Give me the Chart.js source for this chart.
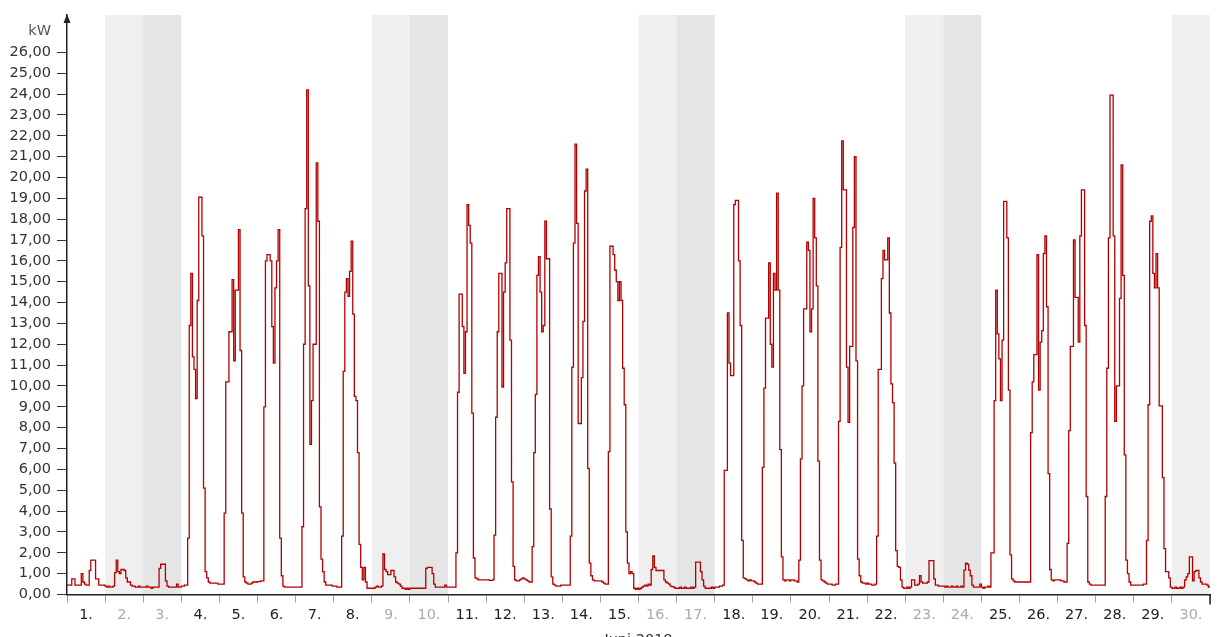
<!DOCTYPE html>
<html>
<head>
<meta charset="utf-8">
<title>Lastgang Juni 2018</title>
<script src="https://cdn.jsdelivr.net/npm/chart.js@4.4.1/dist/chart.umd.min.js"></script>
<style>
  html, body { margin: 0; padding: 0; background: #fff; overflow: hidden; }
  canvas { display: block; }
</style>
</head>
<body>
<canvas id="chart" width="1225" height="637"></canvas>
<script>
// ---- labels ----
const monthTitle = 'Juni 2018';
const unitLabel = 'kW';
const dayLabels = ['1.', '2.', '3.', '4.', '5.', '6.', '7.', '8.', '9.', '10.',
  '11.', '12.', '13.', '14.', '15.', '16.', '17.', '18.', '19.', '20.',
  '21.', '22.', '23.', '24.', '25.', '26.', '27.', '28.', '29.', '30.'];
const saturdays = [2, 9, 16, 23, 30];
const sundays = [3, 10, 17, 24];
const yTickMax = 26;

// ---- hourly load in kW, one array per day (hour 0..23) ----
const day01 = [0.45,0.45,0.45,0.75,0.75,0.45,0.45,0.45,0.45,1.0,0.6,0.5,0.45,0.45,1.15,1.65,1.65,1.65,0.75,0.75,0.45,0.45,0.45,0.45];
const day02 = [0.4,0.35,0.4,0.35,0.35,0.4,1.05,1.65,1.1,1.0,1.2,1.2,1.15,0.8,0.6,0.6,0.45,0.4,0.4,0.35,0.35,0.4,0.35,0.35];
const day03 = [0.35,0.35,0.4,0.35,0.35,0.3,0.35,0.35,0.35,0.35,1.25,1.45,1.45,1.45,0.65,0.4,0.35,0.35,0.35,0.35,0.35,0.5,0.35,0.35];
const day04 = [0.4,0.4,0.45,0.45,2.7,12.9,15.4,11.4,10.8,9.4,14.1,19.05,19.05,17.2,5.1,1.1,0.8,0.6,0.55,0.55,0.55,0.55,0.55,0.5];
const day05 = [0.5,0.5,0.5,3.9,10.2,10.2,12.6,12.6,15.1,11.2,14.6,14.6,17.5,11.7,3.9,0.85,0.6,0.55,0.5,0.5,0.55,0.6,0.6,0.6];
const day06 = [0.62,0.62,0.65,0.65,9.0,16.0,16.3,16.3,16.0,12.85,11.1,14.7,16.0,17.5,2.7,0.9,0.4,0.35,0.35,0.35,0.35,0.35,0.35,0.35];
const day07 = [0.35,0.35,0.35,0.35,3.25,12.0,18.5,24.2,14.8,7.2,9.3,12.0,12.0,20.7,17.9,4.2,1.7,1.1,0.6,0.45,0.45,0.45,0.45,0.4];
const day08 = [0.4,0.4,0.35,0.35,0.35,2.8,10.7,14.5,15.15,14.3,15.5,16.95,13.45,9.5,9.3,6.8,2.4,1.3,0.7,1.3,0.6,0.3,0.3,0.3];
const day09 = [0.3,0.3,0.35,0.4,0.35,0.35,0.4,1.95,1.2,1.1,0.95,0.95,1.15,1.15,0.85,0.6,0.55,0.5,0.4,0.3,0.3,0.25,0.3,0.25];
const day10 = [0.3,0.3,0.3,0.3,0.3,0.3,0.3,0.3,0.3,0.3,1.25,1.3,1.3,1.3,1.0,0.5,0.35,0.35,0.35,0.35,0.35,0.35,0.45,0.35];
const day11 = [0.35,0.35,0.35,0.35,0.35,2.0,9.7,14.4,14.4,12.85,10.6,12.6,18.7,17.7,16.85,8.7,1.75,0.8,0.75,0.7,0.7,0.7,0.7,0.7];
const day12 = [0.7,0.7,0.68,0.68,0.7,2.85,8.5,12.6,15.4,15.4,9.95,14.5,15.9,18.5,18.5,12.2,5.4,1.35,0.7,0.65,0.65,0.7,0.75,0.8];
const day13 = [0.75,0.7,0.65,0.6,0.6,2.3,6.8,9.6,15.3,16.2,14.5,12.6,12.9,17.9,16.1,16.1,4.1,0.85,0.5,0.45,0.4,0.4,0.4,0.45];
const day14 = [0.45,0.45,0.45,0.45,0.45,2.8,10.9,16.85,21.6,17.8,8.2,8.2,10.4,13.1,19.35,20.4,6.05,1.5,0.9,0.7,0.65,0.65,0.65,0.65];
const day15 = [0.65,0.6,0.55,0.5,0.5,6.85,16.7,16.7,16.3,15.55,15.0,14.1,15.0,14.1,10.85,9.1,3.0,1.5,1.0,1.1,1.0,0.3,0.25,0.3];
const day16 = [0.25,0.3,0.35,0.4,0.45,0.4,0.5,0.45,1.2,1.85,1.3,1.15,1.15,1.15,1.15,1.15,0.7,0.6,0.55,0.5,0.4,0.38,0.35,0.3];
const day17 = [0.3,0.3,0.35,0.3,0.3,0.35,0.3,0.3,0.3,0.35,0.3,0.35,1.55,1.55,1.55,1.1,0.7,0.4,0.3,0.3,0.3,0.3,0.35,0.3];
const day18 = [0.35,0.35,0.35,0.4,0.4,0.45,5.95,5.95,13.5,11.1,10.5,10.5,18.7,18.9,18.9,16.0,12.9,2.6,0.8,0.75,0.7,0.65,0.7,0.65];
const day19 = [0.65,0.6,0.55,0.5,0.5,0.5,6.1,9.9,13.25,13.25,15.9,12.0,10.9,15.4,14.6,19.25,14.6,6.95,1.8,0.7,0.65,0.7,0.7,0.65];
const day20 = [0.7,0.7,0.65,0.65,0.6,1.65,6.5,10.0,13.7,13.7,16.9,16.5,12.6,13.7,19.0,17.1,14.8,6.4,1.65,0.7,0.65,0.6,0.55,0.5];
const day21 = [0.5,0.5,0.45,0.45,0.5,0.5,8.3,16.65,21.75,19.4,19.4,10.9,8.25,11.9,11.9,17.6,21.0,11.2,1.7,0.9,0.6,0.55,0.55,0.5];
const day22 = [0.55,0.5,0.5,0.45,0.45,0.5,2.8,10.8,10.8,15.15,16.5,16.05,16.05,17.1,13.5,10.1,9.2,6.3,2.1,1.35,1.3,0.7,0.35,0.3];
const day23 = [0.3,0.35,0.3,0.35,0.7,0.7,0.45,0.45,0.5,0.9,0.6,0.55,0.55,0.55,0.6,1.62,1.62,1.62,0.75,0.45,0.45,0.4,0.4,0.4];
const day24 = [0.4,0.35,0.4,0.35,0.35,0.4,0.35,0.35,0.4,0.35,0.35,0.4,0.35,1.17,1.5,1.45,1.17,0.9,0.45,0.35,0.35,0.35,0.35,0.5];
const day25 = [0.35,0.3,0.35,0.35,0.4,0.35,2.0,2.0,9.3,14.6,12.5,11.3,9.3,12.2,18.85,18.85,17.1,9.8,1.9,0.75,0.65,0.6,0.6,0.6];
const day26 = [0.6,0.6,0.6,0.6,0.6,0.6,0.6,7.76,10.2,11.5,11.5,16.3,9.8,12.1,12.65,16.35,17.2,13.8,5.8,1.2,0.7,0.65,0.7,0.7];
const day27 = [0.7,0.7,0.65,0.65,0.6,0.6,2.45,7.86,11.9,11.9,17.0,14.25,14.25,12.1,17.2,19.4,19.4,12.9,4.7,0.6,0.5,0.45,0.45,0.45];
const day28 = [0.45,0.45,0.45,0.45,0.45,0.45,4.7,10.85,17.1,23.95,23.95,17.2,8.3,10.0,10.0,14.2,20.6,15.3,6.7,1.65,1.0,0.6,0.45,0.45];
const day29 = [0.45,0.45,0.45,0.45,0.45,0.45,0.5,0.5,2.6,9.1,17.9,18.15,15.4,14.7,16.35,14.7,9.05,9.05,5.6,2.2,1.1,1.1,0.8,0.35];
const day30 = [0.3,0.3,0.35,0.3,0.3,0.35,0.3,0.35,0.7,0.85,1.0,1.8,1.8,0.65,1.1,1.15,1.15,0.8,0.6,0.5,0.5,0.5,0.45,0.35];

const days = [day01, day02, day03, day04, day05, day06, day07, day08, day09, day10,
  day11, day12, day13, day14, day15, day16, day17, day18, day19, day20,
  day21, day22, day23, day24, day25, day26, day27, day28, day29, day30];

// hourly step series: each value holds from its hour to the next
const HOURS_PER_DAY = 24;
const loadPoints = [];
days.forEach((vals, d) => vals.forEach((v, h) => loadPoints.push({ x: d * HOURS_PER_DAY + h, y: v })));
loadPoints.push({ x: days.length * HOURS_PER_DAY, y: day30[day30.length - 1] });

const FONT = { family: '"DejaVu Sans", Verdana, sans-serif', size: 14.5 };
const fontCss = `${FONT.size}px ${FONT.family}`;

// weekend bands behind the curve
const weekendBands = {
  id: 'weekendBands',
  beforeDraw(chart) {
    const { ctx, chartArea } = chart;
    const xs = chart.scales.xh;
    const band = (day, color) => {
      const x0 = xs.getPixelForValue((day - 1) * HOURS_PER_DAY);
      const x1 = xs.getPixelForValue(day * HOURS_PER_DAY);
      ctx.fillStyle = color;
      ctx.fillRect(x0, chartArea.top, x1 - x0, chartArea.bottom - chartArea.top);
    };
    ctx.save();
    saturdays.forEach(d => band(d, '#efefef'));
    sundays.forEach(d => band(d, '#e5e5e5'));
    ctx.restore();
  }
};

// axis arrow, end tick, unit label and month caption
const axisDecor = {
  id: 'axisDecor',
  afterDraw(chart) {
    const { ctx, chartArea } = chart;
    const x = chartArea.left;
    ctx.save();
    ctx.fillStyle = '#222';
    ctx.beginPath();
    ctx.moveTo(x, chartArea.top - 1);
    ctx.lineTo(x - 3.5, chartArea.top + 8);
    ctx.lineTo(x + 3.5, chartArea.top + 8);
    ctx.closePath();
    ctx.fill();

    // closing tick at the right end of the time axis
    ctx.strokeStyle = '#222';
    ctx.lineWidth = 1.5;
    ctx.beginPath();
    ctx.moveTo(chartArea.right, chartArea.bottom);
    ctx.lineTo(chartArea.right, chartArea.bottom + 10);
    ctx.stroke();

    ctx.font = fontCss;
    ctx.fillStyle = '#555';
    ctx.textAlign = 'right';
    ctx.textBaseline = 'middle';
    ctx.fillText(unitLabel, x - 16, chartArea.top + 16);

    ctx.fillStyle = '#333';
    ctx.textAlign = 'center';
    ctx.fillText(monthTitle, (chartArea.left + chartArea.right) / 2, chartArea.bottom + 46);
    ctx.restore();
  }
};

const isWeekend = i => saturdays.includes(i + 1) || sundays.includes(i + 1);

new Chart(document.getElementById('chart'), {
  type: 'line',
  data: {
    datasets: [{
      data: loadPoints,
      xAxisID: 'xh',
      yAxisID: 'y',
      borderColor: '#b20000',
      borderWidth: 1.3,
      pointRadius: 0,
      stepped: 'before',
      fill: false
    }]
  },
  options: {
    responsive: false,
    animation: false,
    devicePixelRatio: 1,
    parsing: false,
    normalized: true,
    layout: { padding: { top: 15, right: 15, left: 0, bottom: 0 } },
    plugins: { legend: { display: false }, tooltip: { enabled: false } },
    scales: {
      x: {
        type: 'category',
        labels: dayLabels,
        position: 'bottom',
        offset: true,
        grid: { offset: true, drawOnChartArea: false, drawTicks: true, tickLength: 8, color: '#a0a0a0', lineWidth: 1 },
        border: { display: true, color: '#222', width: 1.5 },
        ticks: {
          font: FONT,
          color: c => isWeekend(c.index) ? '#ababab' : '#222',
          padding: 4,
          maxRotation: 0,
          autoSkip: false
        },
        afterFit: s => { s.height = 42.5; }
      },
      xh: { type: 'linear', display: false, min: 0, max: days.length * HOURS_PER_DAY },
      y: {
        type: 'linear',
        position: 'left',
        min: 0,
        max: 27.79,
        ticks: {
          stepSize: 1,
          font: FONT,
          color: '#333',
          padding: 6,
          callback: v => v.toFixed(2).replace('.', ',')
        },
        afterBuildTicks: s => { s.ticks = s.ticks.filter(t => Number.isInteger(t.value) && t.value <= yTickMax); },
        grid: { drawOnChartArea: false, tickLength: 10, color: '#333', lineWidth: 1 },
        border: { display: true, color: '#222', width: 1.5 },
        afterFit: s => { s.width = 67; }
      }
    }
  },
  plugins: [weekendBands, axisDecor]
});
</script>
</body>
</html>
